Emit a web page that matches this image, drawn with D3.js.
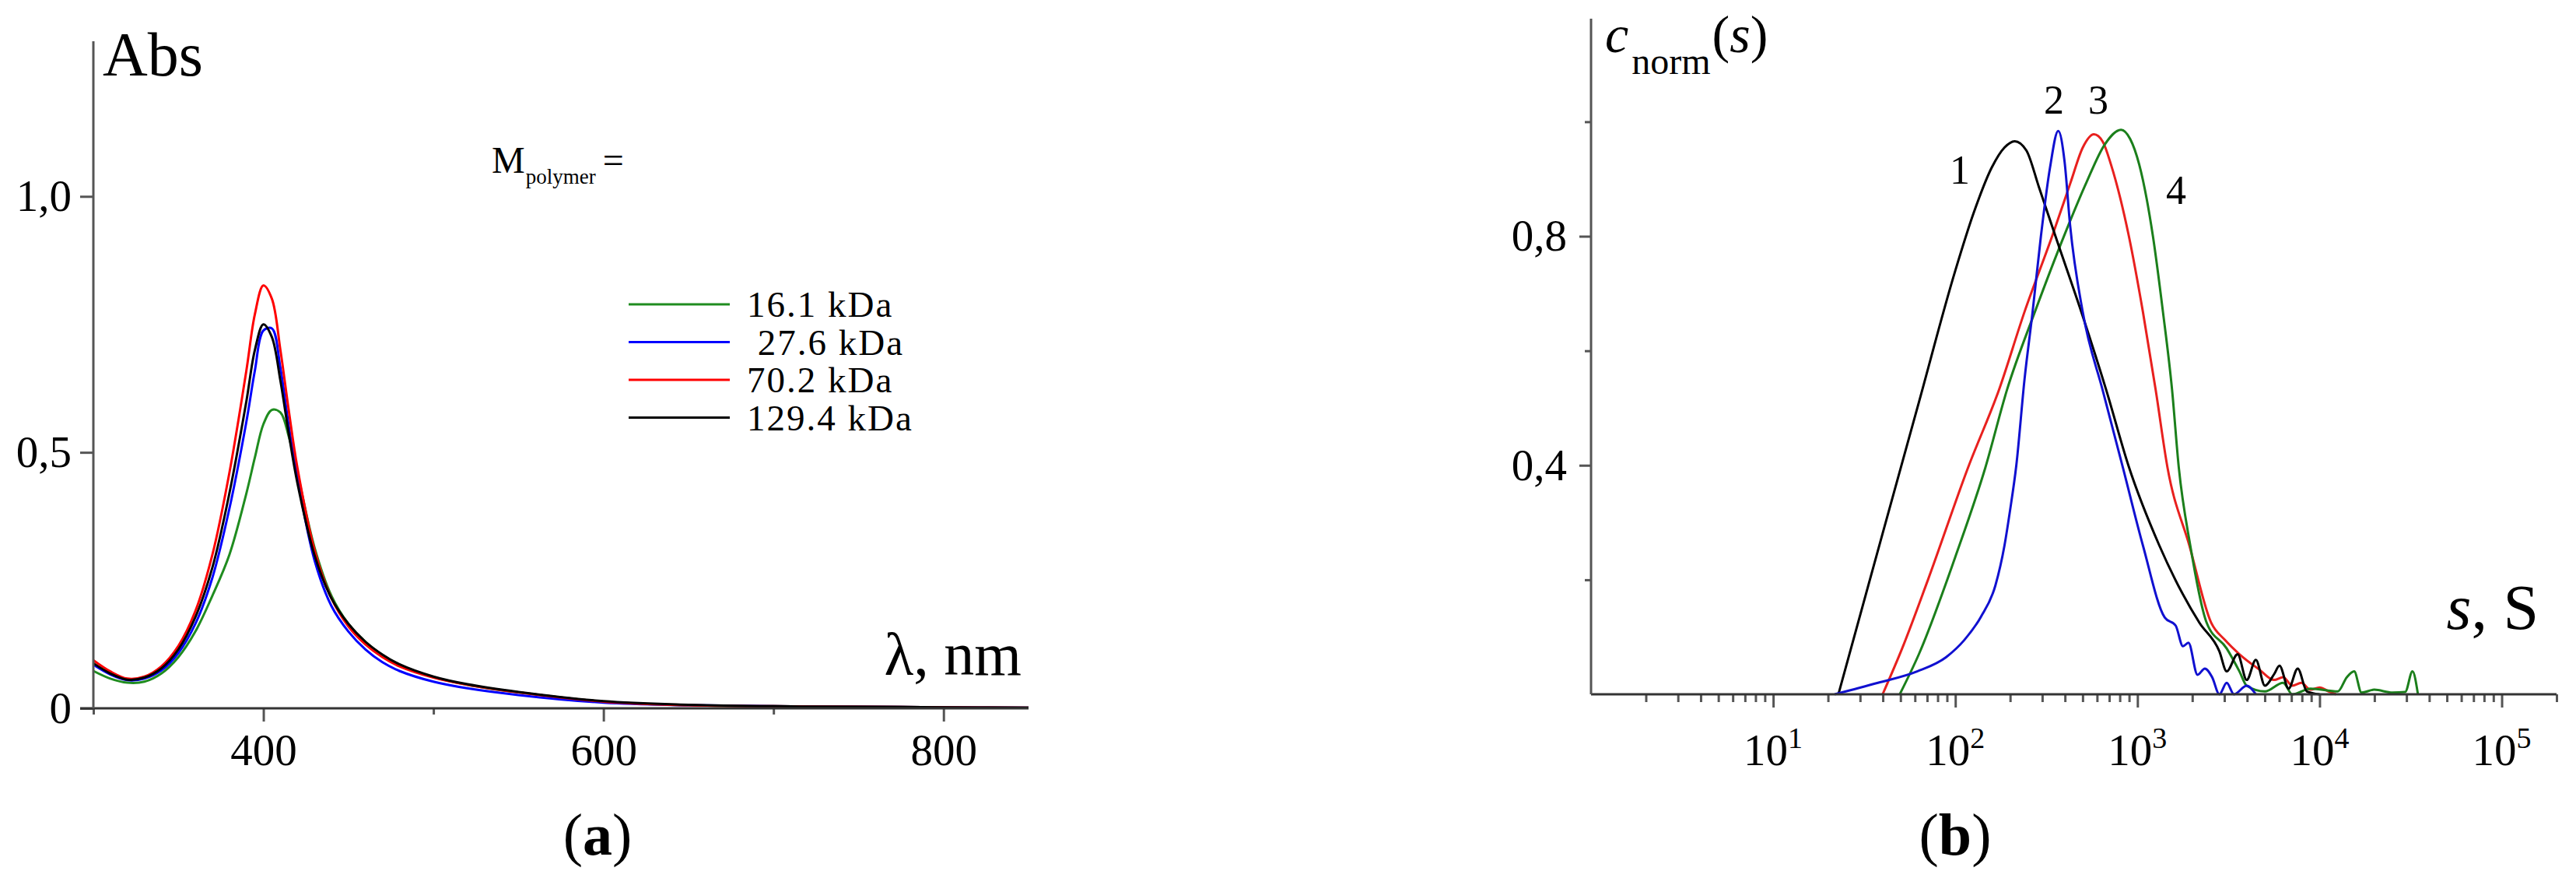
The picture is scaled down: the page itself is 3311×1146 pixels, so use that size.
<!DOCTYPE html>
<html>
<head>
<meta charset="utf-8">
<script src="https://cdn.jsdelivr.net/npm/d3@7"></script>
<style>
  body { margin: 0; background: #fff; }
  svg text { font-family: "Liberation Serif", "Times New Roman", serif; fill: #000; }
</style>
</head>
<body>
<svg id="chart" width="3311" height="1146"></svg>
<script>
// ---- panel (a): absorption spectra ----
var wavelengths = [300, 310, 320, 330, 340, 350, 360, 370, 380, 390, 395, 400, 405, 410, 415, 420, 430, 440, 450, 460, 470, 480, 500, 520, 550, 600, 650, 700, 750, 800, 850];
var abs16 = [0.073, 0.058, 0.050, 0.052, 0.068, 0.10, 0.15, 0.22, 0.30, 0.42, 0.49, 0.555, 0.583, 0.578, 0.53, 0.46, 0.315, 0.22, 0.165, 0.13, 0.104, 0.085, 0.061, 0.046, 0.031, 0.013, 0.006, 0.004, 0.003, 0.002, 0.001];
var abs27 = [0.085, 0.066, 0.055, 0.058, 0.074, 0.108, 0.165, 0.255, 0.39, 0.56, 0.66, 0.738, 0.742, 0.665, 0.55, 0.45, 0.29, 0.20, 0.15, 0.115, 0.09, 0.073, 0.052, 0.039, 0.026, 0.011, 0.006, 0.004, 0.003, 0.002, 0.001];
var abs70 = [0.094, 0.072, 0.058, 0.062, 0.082, 0.122, 0.19, 0.30, 0.46, 0.66, 0.77, 0.826, 0.80, 0.70, 0.58, 0.47, 0.31, 0.215, 0.16, 0.125, 0.10, 0.082, 0.060, 0.046, 0.031, 0.013, 0.006, 0.004, 0.003, 0.002, 0.001];
var abs129 = [0.088, 0.068, 0.056, 0.060, 0.078, 0.115, 0.178, 0.275, 0.42, 0.60, 0.70, 0.750, 0.725, 0.64, 0.535, 0.44, 0.30, 0.215, 0.165, 0.13, 0.105, 0.086, 0.062, 0.047, 0.032, 0.014, 0.007, 0.004, 0.003, 0.002, 0.001];
var legendLabels = ["16.1 kDa", " 27.6 kDa", "70.2 kDa", "129.4 kDa"];
var absTicks = [0, 0.5, 1.0];
var lambdaTicks = [400, 600, 800];
var lambdaMinor = [300, 500, 700];

// ---- panel (b): sedimentation coefficient distributions (log10 s) ----
var logS1 = [1.358, 1.6, 1.8, 2.0, 2.1, 2.2, 2.27, 2.326, 2.39, 2.46, 2.55, 2.7, 2.83, 2.95, 3.12, 3.34, 3.45, 3.49, 3.55, 3.6, 3.65, 3.7, 3.75, 3.78, 3.83, 3.88, 3.93, 4.0];
var c1 = [0, 0.28, 0.51, 0.74, 0.84, 0.92, 0.955, 0.966, 0.95, 0.885, 0.80, 0.66, 0.53, 0.40, 0.26, 0.125, 0.075, 0.04, 0.07, 0.025, 0.06, 0.015, 0.035, 0.05, 0.01, 0.045, 0.005, 0];
var logS2 = [1.338, 1.575, 1.79, 1.95, 2.05, 2.14, 2.22, 2.27, 2.30, 2.335, 2.38, 2.424, 2.47, 2.52, 2.565, 2.60, 2.63, 2.70, 2.81, 2.92, 3.03, 3.15, 3.21, 3.25, 3.28, 3.33, 3.37, 3.41, 3.45, 3.49, 3.53, 3.6, 3.65];
var c2 = [0, 0.02, 0.04, 0.065, 0.095, 0.135, 0.19, 0.26, 0.32, 0.40, 0.55, 0.667, 0.80, 0.92, 0.984, 0.93, 0.82, 0.667, 0.53, 0.396, 0.26, 0.134, 0.12, 0.084, 0.09, 0.034, 0.045, 0.03, 0, 0.02, 0, 0.015, 0];
var logS3 = [1.601, 1.708, 1.85, 2.07, 2.24, 2.38, 2.535, 2.633, 2.70, 2.761, 2.81, 2.855, 2.953, 3.03, 3.1, 3.165, 3.285, 3.405, 3.48, 3.56, 3.67, 3.75, 3.8, 3.85, 3.9, 3.95, 4.0, 4.05, 4.09];
var c3 = [0, 0.08, 0.20, 0.396, 0.532, 0.668, 0.803, 0.894, 0.955, 0.978, 0.965, 0.925, 0.80, 0.668, 0.532, 0.396, 0.26, 0.125, 0.095, 0.07, 0.043, 0.025, 0.03, 0.015, 0.02, 0.008, 0.012, 0.005, 0];
var logS4 = [1.695, 1.8, 2.0, 2.165, 2.284, 2.437, 2.60, 2.72, 2.82, 2.91, 2.96, 3.01, 3.085, 3.14, 3.19, 3.227, 3.29, 3.38, 3.49, 3.56, 3.6, 3.7, 3.8, 3.85, 3.95, 4.1, 4.15, 4.19, 4.23, 4.3, 4.4, 4.47, 4.51, 4.54];
var c4 = [0, 0.07, 0.24, 0.396, 0.532, 0.668, 0.803, 0.894, 0.96, 0.986, 0.97, 0.925, 0.80, 0.668, 0.532, 0.396, 0.26, 0.125, 0.08, 0.04, 0.015, 0.005, 0.02, 0, 0.01, 0.005, 0.03, 0.04, 0.003, 0.008, 0.003, 0.004, 0.04, 0];
var curveNames = ["1", "2", "3", "4"];
var cTicks = [0.4, 0.8];
var cMinor = [0.2, 0.6, 1.0];
var sDecades = [1, 2, 3, 4, 5];

var svg = d3.select("#chart");
svg.append("rect").attr("width", 3311).attr("height", 1146).attr("fill", "#fff");

var axisColor = "#555";
var comma = function(d){ return d === 0 ? "0" : d3.format(".1f")(d).replace(".", ","); };

function styleAxis(g, size){
	g.select(".domain").remove();
	g.selectAll(".tick line").attr("stroke", axisColor).attr("stroke-width", 3);
	g.selectAll(".tick text").attr("font-size", size).attr("font-family", '"Liberation Serif", serif').attr("fill", "#000");
}

// ================= panel (a) =================
var xL = d3.scaleLinear().domain([300, 850]).range([120, 1322]);
var yL = d3.scaleLinear().domain([0, 1.3]).range([910, 55]);

var pa = svg.append("g");

pa.append("g").attr("transform", "translate(0,910)")
	.call(d3.axisBottom(xL).tickValues(lambdaMinor).tickSize(8).tickFormat(""))
	.call(styleAxis, 57);
pa.append("g").attr("transform", "translate(0,910)")
	.call(d3.axisBottom(xL).tickValues(lambdaTicks).tickSize(17).tickPadding(16).tickFormat(d3.format("d")))
	.call(styleAxis, 57);
pa.append("g").attr("transform", "translate(120,0)")
	.call(d3.axisLeft(yL).tickValues(absTicks).tickSize(17).tickPadding(11).tickFormat(comma))
	.call(styleAxis, 57);

var lineL = d3.line()
	.x(function(d){ return xL(d[0]); })
	.y(function(d){ return yL(d[1]); })
	.curve(d3.curveCatmullRom.alpha(0.5));

var specSeries = [
	{ vals: abs16, color: "#1f8c1f" },
	{ vals: abs27, color: "#0000ff" },
	{ vals: abs70, color: "#ff0000" },
	{ vals: abs129, color: "#000000" }
];

specSeries.forEach(function(s){
	pa.append("path")
		.datum(d3.zip(wavelengths, s.vals))
		.attr("fill", "none")
		.attr("stroke", s.color)
		.attr("stroke-width", 3)
		.attr("d", lineL);
});

// axis lines
pa.append("line").attr("x1", 103).attr("x2", xL(850)).attr("y1", yL(0)).attr("y2", yL(0))
	.attr("stroke", "#333").attr("stroke-width", 3);
pa.append("line").attr("x1", xL(300)).attr("x2", xL(300)).attr("y1", yL(1.3) - 2).attr("y2", yL(0))
	.attr("stroke", axisColor).attr("stroke-width", 3);

pa.append("text").attr("x", 132).attr("y", 97).attr("font-size", 80).text("Abs");
pa.append("text").attr("x", 1313).attr("y", 867).attr("font-size", 78).attr("text-anchor", "end").text("λ, nm");

// legend
var mt = pa.append("text").attr("x", 632).attr("y", 222).attr("font-size", 48);
mt.append("tspan").text("M");
mt.append("tspan").attr("font-size", 27).attr("dy", 14).attr("dx", 1).text("polymer");
mt.append("tspan").attr("dy", -14).attr("dx", 9).text("=");

var leg = pa.append("g").selectAll("g").data(legendLabels).enter().append("g")
	.attr("transform", function(d, i){ return "translate(0," + (391 + i * 48.5) + ")"; });
leg.append("line").attr("x1", 808).attr("x2", 938).attr("y1", 0).attr("y2", 0)
	.attr("stroke", function(d, i){ return specSeries[i].color; }).attr("stroke-width", 3);
leg.append("text").attr("x", 960).attr("y", 16).attr("font-size", 47)
	.attr("letter-spacing", 2).style("white-space", "pre").text(function(d){ return d; });

var la = pa.append("text").attr("x", 768).attr("y", 1098).attr("font-size", 76).attr("text-anchor", "middle");
la.append("tspan").text("(");
la.append("tspan").attr("font-weight", "bold").text("a");
la.append("tspan").text(")");

// ================= panel (b) =================
var xR = d3.scaleLog().domain([1, 2e5]).range([2045, 3286]);
var yR = d3.scaleLinear().domain([0, 1.18]).range([892, 24]);

var pb = svg.append("g");

var minorS = xR.ticks().filter(function(v){ return Math.abs(Math.log10(v) - Math.round(Math.log10(v))) > 1e-6; });
var majorS = sDecades.map(function(k){ return Math.pow(10, k); });

pb.append("g").attr("transform", "translate(0,892)")
	.call(d3.axisBottom(xR).tickValues(minorS).tickSize(10).tickFormat(""))
	.call(styleAxis, 57);
pb.append("g").attr("transform", "translate(0,892)")
	.call(d3.axisBottom(xR).tickValues(majorS).tickSize(17).tickFormat(""))
	.call(styleAxis, 57);
pb.append("g").attr("transform", "translate(2045,0)")
	.call(d3.axisLeft(yR).tickValues(cMinor).tickSize(8).tickFormat(""))
	.call(styleAxis, 57);
pb.append("g").attr("transform", "translate(2045,0)")
	.call(d3.axisLeft(yR).tickValues(cTicks).tickSize(15).tickPadding(16).tickFormat(comma))
	.call(styleAxis, 57);

// decade labels 10^k
var dl = pb.append("g").selectAll("text").data(sDecades).enter().append("text")
	.attr("x", function(k){ return xR(Math.pow(10, k)); })
	.attr("y", 983).attr("font-size", 57).attr("text-anchor", "middle");
dl.append("tspan").text("10");
dl.append("tspan").attr("font-size", 38).attr("dy", -22).text(function(k){ return k; });

var lineR = d3.line()
	.x(function(d){ return xR(Math.pow(10, d[0])); })
	.y(function(d){ return yR(d[1]); })
	.curve(d3.curveMonotoneX);

var sedSeries = [
	{ ls: logS3, c: c3, color: "#e8201e" },
	{ ls: logS4, c: c4, color: "#1b7f1b" },
	{ ls: logS1, c: c1, color: "#000000" },
	{ ls: logS2, c: c2, color: "#1010d0" }
];
sedSeries.forEach(function(s){
	pb.append("path")
		.datum(d3.zip(s.ls, s.c))
		.attr("fill", "none")
		.attr("stroke", s.color)
		.attr("stroke-width", 3)
		.attr("d", lineR);
});

pb.append("line").attr("x1", 2045).attr("x2", xR(2e5)).attr("y1", yR(0)).attr("y2", yR(0))
	.attr("stroke", "#333").attr("stroke-width", 3);
pb.append("line").attr("x1", 2045).attr("x2", 2045).attr("y1", yR(1.18)).attr("y2", yR(0))
	.attr("stroke", axisColor).attr("stroke-width", 3);

// curve numbers
var numPos = [[2519, 236], [2640, 146], [2697, 146], [2797, 262]];
pb.append("g").selectAll("text").data(curveNames).enter().append("text")
	.attr("x", function(d, i){ return numPos[i][0]; })
	.attr("y", function(d, i){ return numPos[i][1]; })
	.attr("font-size", 52).attr("text-anchor", "middle").text(function(d){ return d; });

// axis titles
var ct = pb.append("text").attr("x", 2063).attr("y", 67).attr("font-size", 68);
ct.append("tspan").attr("font-style", "italic").text("c");
ct.append("tspan").attr("font-size", 48).attr("dy", 28).attr("dx", 4).text("norm");
ct.append("tspan").attr("dy", -28).attr("dx", 2).text("(");
ct.append("tspan").attr("font-style", "italic").text("s");
ct.append("tspan").text(")");

var st = pb.append("text").attr("x", 3263).attr("y", 808).attr("font-size", 82).attr("text-anchor", "end");
st.append("tspan").attr("font-style", "italic").text("s");
st.append("tspan").text(", S");

var lb = pb.append("text").attr("x", 2513).attr("y", 1098).attr("font-size", 76).attr("text-anchor", "middle");
lb.append("tspan").text("(");
lb.append("tspan").attr("font-weight", "bold").text("b");
lb.append("tspan").text(")");
</script>
</body>
</html>
